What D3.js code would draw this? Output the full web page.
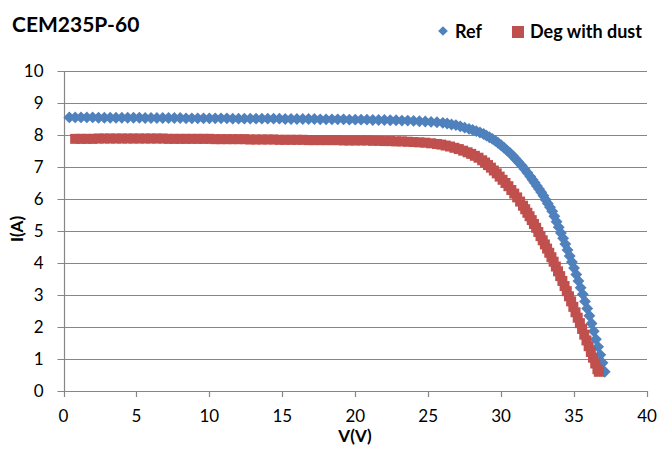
<!DOCTYPE html>
<html>
<head>
<meta charset="utf-8">
<script src="https://cdn.jsdelivr.net/npm/d3@7"></script>
<style>
  body { margin: 0; background: #fff; }
  svg { font-family: Lato, "Open Sans", sans-serif; }
</style>
</head>
<body>
<svg id="chart"></svg>
<script>
// I-V curves
const refV = [
    0.4, 0.8, 1.2, 1.6, 2.0, 2.4, 2.8, 3.2, 3.6, 4.0, 4.4, 4.8, 5.2, 5.6, 6.0, 6.4, 6.8, 7.2, 7.6, 8.0,
    8.4, 8.8, 9.2, 9.6, 10.0, 10.4, 10.8, 11.2, 11.6, 12.0, 12.4, 12.8, 13.2, 13.6, 14.0, 14.4, 14.8, 15.2, 15.6, 16.0,
    16.4, 16.8, 17.2, 17.6, 18.0, 18.4, 18.8, 19.2, 19.6, 20.0, 20.4, 20.8, 21.2, 21.6, 22.0, 22.4, 22.8, 23.2, 23.6, 24.0,
    24.4, 24.8, 25.2, 25.6, 26.0, 26.3, 26.6, 26.9, 27.2, 27.5, 27.8, 28.05, 28.3, 28.55, 28.8, 29.0, 29.2, 29.4, 29.6, 29.8,
    30.0, 30.2, 30.4, 30.6, 30.8, 31.0, 31.2, 31.4, 31.6, 31.8, 32.0, 32.15, 32.3, 32.45, 32.6, 32.75, 32.9, 33.05, 33.2, 33.35,
    33.5, 33.65, 33.8, 33.95, 34.1, 34.25, 34.4, 34.55, 34.7, 34.85, 35.0, 35.15, 35.3, 35.45, 35.6, 35.75, 35.9, 36.05, 36.2, 36.35,
    36.5, 36.65, 36.8, 36.95, 37.1
];
const refI = [
    8.55, 8.55, 8.55, 8.55, 8.55, 8.54, 8.54, 8.54, 8.54, 8.54, 8.54, 8.54, 8.54, 8.53, 8.53, 8.53, 8.53, 8.53, 8.53, 8.53,
    8.52, 8.52, 8.52, 8.52, 8.52, 8.52, 8.52, 8.52, 8.51, 8.51, 8.51, 8.51, 8.51, 8.51, 8.51, 8.51, 8.51, 8.50, 8.50, 8.50,
    8.50, 8.50, 8.50, 8.49, 8.49, 8.49, 8.49, 8.49, 8.48, 8.48, 8.48, 8.48, 8.47, 8.47, 8.47, 8.46, 8.46, 8.45, 8.45, 8.44,
    8.43, 8.42, 8.41, 8.40, 8.38, 8.36, 8.33, 8.31, 8.27, 8.23, 8.19, 8.16, 8.12, 8.08, 8.03, 7.98, 7.93, 7.88, 7.82, 7.75,
    7.68, 7.60, 7.52, 7.44, 7.35, 7.25, 7.15, 7.05, 6.94, 6.82, 6.70, 6.60, 6.51, 6.41, 6.31, 6.21, 6.10, 5.98, 5.86, 5.74,
    5.62, 5.46, 5.29, 5.12, 4.94, 4.77, 4.59, 4.41, 4.22, 4.03, 3.84, 3.64, 3.44, 3.23, 3.02, 2.80, 2.58, 2.35, 2.11, 1.87,
    1.62, 1.38, 1.13, 0.88, 0.60
];
const degV = [
    0.8, 1.2, 1.6, 2.0, 2.4, 2.8, 3.2, 3.6, 4.0, 4.4, 4.8, 5.2, 5.6, 6.0, 6.4, 6.8, 7.2, 7.6, 8.0, 8.4,
    8.8, 9.2, 9.6, 10.0, 10.4, 10.8, 11.2, 11.6, 12.0, 12.4, 12.8, 13.2, 13.6, 14.0, 14.4, 14.8, 15.2, 15.6, 16.0, 16.4,
    16.8, 17.2, 17.6, 18.0, 18.4, 18.8, 19.2, 19.6, 20.0, 20.4, 20.8, 21.2, 21.6, 22.0, 22.4, 22.8, 23.2, 23.6, 24.0, 24.4,
    24.8, 25.2, 25.6, 25.9, 26.2, 26.5, 26.8, 27.1, 27.4, 27.7, 27.95, 28.2, 28.45, 28.7, 28.9, 29.1, 29.3, 29.5, 29.7, 29.9,
    30.1, 30.3, 30.5, 30.7, 30.9, 31.1, 31.3, 31.5, 31.65, 31.8, 31.95, 32.1, 32.25, 32.4, 32.55, 32.7, 32.85, 33.0, 33.15, 33.3,
    33.45, 33.6, 33.75, 33.9, 34.05, 34.2, 34.35, 34.5, 34.65, 34.8, 34.95, 35.1, 35.25, 35.4, 35.55, 35.7, 35.85, 36.0, 36.15, 36.3,
    36.45, 36.6, 36.7
];
const degI = [
    7.88, 7.88, 7.88, 7.88, 7.89, 7.89, 7.89, 7.89, 7.89, 7.89, 7.89, 7.89, 7.89, 7.89, 7.89, 7.89, 7.88, 7.88, 7.88, 7.88,
    7.88, 7.88, 7.88, 7.88, 7.87, 7.87, 7.87, 7.87, 7.87, 7.87, 7.86, 7.86, 7.86, 7.86, 7.86, 7.85, 7.85, 7.85, 7.85, 7.85,
    7.84, 7.84, 7.84, 7.84, 7.84, 7.84, 7.83, 7.83, 7.83, 7.83, 7.83, 7.82, 7.82, 7.81, 7.81, 7.80, 7.80, 7.79, 7.78, 7.77,
    7.76, 7.74, 7.72, 7.70, 7.67, 7.64, 7.60, 7.56, 7.51, 7.46, 7.41, 7.35, 7.29, 7.21, 7.14, 7.06, 6.98, 6.89, 6.80, 6.70,
    6.60, 6.50, 6.40, 6.28, 6.17, 6.05, 5.92, 5.79, 5.68, 5.57, 5.46, 5.34, 5.22, 5.10, 4.97, 4.84, 4.71, 4.58, 4.45, 4.32,
    4.18, 4.04, 3.89, 3.74, 3.59, 3.44, 3.28, 3.12, 2.96, 2.80, 2.63, 2.46, 2.29, 2.12, 1.94, 1.76, 1.58, 1.40, 1.22, 1.04,
    0.86, 0.68, 0.60
];
const xTicks = [0, 5, 10, 15, 20, 25, 30, 35, 40];
const yTicks = [0, 1, 2, 3, 4, 5, 6, 7, 8, 9, 10];

const width = 660;
const height = 450;
const margin = {left: 63.5, right: 13, top: 71, bottom: 59};

const blue = '#4f81bd';
const red = '#c0504d';
const grid = '#868686';

const svg = d3.select('svg#chart')
    .attr('width', width)
    .attr('height', height);

const x = d3.scaleLinear().domain([0, 40]).range([margin.left, width - margin.right]);
const y = d3.scaleLinear().domain([0, 10]).range([height - margin.bottom, margin.top]);

// gridlines
svg.append('g')
    .selectAll('line')
    .data(yTicks)
    .join('line')
    .attr('x1', x(0) - 6)
    .attr('x2', x(40))
    .attr('y1', d => Math.round(y(d)) + 0.5)
    .attr('y2', d => Math.round(y(d)) + 0.5)
    .attr('stroke', grid)
    .attr('stroke-width', 1.2);

// y axis line
svg.append('line')
    .attr('x1', Math.round(x(0)) + 0.5).attr('x2', Math.round(x(0)) + 0.5)
    .attr('y1', y(10)).attr('y2', y(0))
    .attr('stroke', grid).attr('stroke-width', 1.2);

// x ticks
svg.append('g')
    .selectAll('line')
    .data(xTicks)
    .join('line')
    .attr('x1', d => Math.round(x(d)) + 0.5)
    .attr('x2', d => Math.round(x(d)) + 0.5)
    .attr('y1', y(0))
    .attr('y2', y(0) + 6)
    .attr('stroke', grid)
    .attr('stroke-width', 1.2);

svg.append('g')
    .selectAll('text')
    .data(xTicks)
    .join('text')
    .attr('x', d => x(d))
    .attr('y', y(0) + 31)
    .attr('text-anchor', 'middle')
    .attr('font-size', 17)
    .attr('fill', '#000')
    .text(d => d);

svg.append('g')
    .selectAll('text')
    .data(yTicks)
    .join('text')
    .attr('x', x(0) - 20)
    .attr('y', d => y(d) + 6)
    .attr('text-anchor', 'end')
    .attr('font-size', 17)
    .attr('fill', '#000')
    .text(d => d);

// series
const refData = refV.map((v, i) => ({v, i: refI[i]}));
const degData = degV.map((v, i) => ({v, i: degI[i]}));

svg.append('g')
    .selectAll('path')
    .data(refData)
    .join('path')
    .attr('d', d3.symbol(d3.symbolDiamond2, 90))
    .attr('transform', d => `translate(${x(d.v)},${y(d.i)})`)
    .attr('fill', blue);

svg.append('g')
    .selectAll('rect')
    .data(degData)
    .join('rect')
    .attr('x', d => x(d.v) - 5)
    .attr('y', d => y(d.i) - 5)
    .attr('width', 10)
    .attr('height', 10)
    .attr('fill', red);

// titles
svg.append('text')
    .attr('x', 12).attr('y', 32)
    .attr('font-size', 21).attr('font-weight', 'bold')
    .text('CEM235P-60');

svg.append('text')
    .attr('transform', `translate(23,229) rotate(-90)`)
    .attr('text-anchor', 'middle')
    .attr('font-size', 17).attr('font-weight', 'bold')
    .text('I(A)');

svg.append('text')
    .attr('x', 355).attr('y', 442)
    .attr('text-anchor', 'middle')
    .attr('font-size', 17).attr('font-weight', 'bold')
    .text('V(V)');

// legend
const legend = svg.append('g').attr('font-size', 18).attr('font-weight', 'bold');
legend.append('path')
    .attr('d', d3.symbol(d3.symbolDiamond2, 60))
    .attr('transform', 'translate(443,31)')
    .attr('fill', blue);
legend.append('text').attr('x', 455).attr('y', 38).text('Ref');
legend.append('rect')
    .attr('x', 512).attr('y', 26).attr('width', 12).attr('height', 12)
    .attr('fill', red);
legend.append('text').attr('x', 530).attr('y', 38).text('Deg with dust');
</script>
</body>
</html>
